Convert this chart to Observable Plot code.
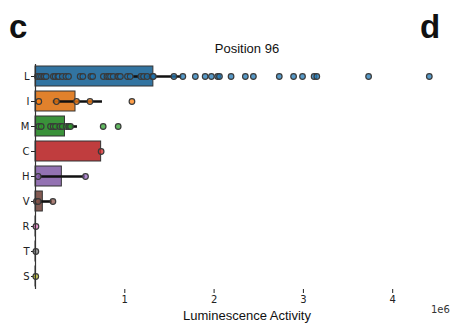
<!DOCTYPE html>
<html>
<head>
<meta charset="utf-8">
<script src="https://cdn.jsdelivr.net/npm/d3@7"></script>
<script src="https://cdn.jsdelivr.net/npm/@observablehq/plot@0.6"></script>
<style>
  html, body { margin: 0; padding: 0; background: #fff; }
  #wrap { position: relative; width: 450px; height: 325px; overflow: hidden; font-family: "Liberation Sans", Arial, sans-serif; }
  #wrap svg { position: absolute; left: 0; top: 0; }
  .lab { position: absolute; white-space: nowrap; color: #111; }
</style>
</head>
<body>
<div id="wrap">
  <div class="lab" style="left:9px;top:8px;font-size:33px;font-weight:bold;line-height:38px;">c</div>
  <div class="lab" style="left:420px;top:8px;font-size:33px;font-weight:bold;line-height:38px;">d</div>
  <div class="lab" id="title" style="left:0;width:450px;padding-left:44px;box-sizing:border-box;text-align:center;top:41px;font-size:13px;line-height:16px;">Position 96</div>
  <div class="lab" id="xlabel" style="left:0;width:450px;padding-left:44px;box-sizing:border-box;text-align:center;top:308px;font-size:13px;line-height:16px;">Luminescence Activity</div>
  <div class="lab" style="left:431px;top:304px;font-size:10px;line-height:12px;font-family:'DejaVu Sans',sans-serif;color:#333;">1e6</div>
</div>
<script>
// Amino acid categories at position 96 (order as in the chart)
const categories = ["L", "I", "M", "C", "H", "V", "R", "T", "S"];
// Mean luminescence activity per category (units of 1e6)
const means = [1.32, 0.448, 0.33, 0.735, 0.295, 0.082, 0.004, 0.002, 0.002];
// Confidence interval (error bar) ends (units of 1e6)
const ciLow  = [1.10, 0.20, 0.19, 0.735, 0.03, 0.02, 0.004, 0.002, 0.002];
const ciHigh = [1.64, 0.75, 0.47, 0.735, 0.56, 0.19, 0.004, 0.002, 0.002];
// Individual measurements (units of 1e6)
const pointsL = [0.022, 0.045, 0.067, 0.09, 0.10, 0.12, 0.20, 0.22, 0.25, 0.26, 0.30, 0.34, 0.37,
  0.50, 0.53, 0.62, 0.64, 0.76, 0.80, 0.82, 0.84, 0.87, 0.92, 0.93, 0.95, 1.03, 1.06, 1.18, 1.21,
  1.25, 1.31, 1.32, 1.55, 1.65, 1.79, 1.90, 1.97, 2.04, 2.06, 2.19, 2.35, 2.44, 2.73, 2.89, 2.99,
  3.12, 3.15, 3.73, 4.41];
const pointsI = [0.037, 0.235, 0.46, 0.61, 1.08];
const pointsM = [0.037, 0.064, 0.168, 0.198, 0.224, 0.272, 0.30, 0.347, 0.373, 0.392, 0.758, 0.926];
const pointsC = [0.735];
const pointsH = [0.03, 0.56];
const pointsV = [0.01, 0.03, 0.195];
const pointsR = [0.005];
const pointsT = [0.004];
const pointsS = [0.003];
const xTicks = [1, 2, 3, 4];
// Colours: bars (desaturated) and points (full)
const barColors = ["#3274a1", "#e1812c", "#3a923a", "#c03d3e", "#9372b2", "#845b53", "#d684bd", "#7f7f7f", "#a9aa35"];
const dotColors = ["#1f77b4", "#ff7f0e", "#2ca02c", "#d62728", "#9467bd", "#8c564b", "#e377c2", "#7f7f7f", "#bcbd22"];

const pointLists = [pointsL, pointsI, pointsM, pointsC, pointsH, pointsV, pointsR, pointsT, pointsS];
const summary = categories.map((c, i) => ({aa: c, mean: means[i], lo: ciLow[i], hi: ciHigh[i]}));
const points = categories.flatMap((c, i) => pointLists[i].map(v => ({aa: c, value: v})));

const xMax = (450 - 35) / 89.3;

const chart = Plot.plot({
  width: 450,
  height: 325,
  marginTop: 64,
  marginBottom: 36,
  marginLeft: 35,
  marginRight: 0,
  style: {fontFamily: "'DejaVu Sans', sans-serif", fontSize: "10px", color: "#222", background: "transparent"},
  x: {domain: [0, xMax], ticks: xTicks, tickSize: 4, tickPadding: 2, tickFormat: d => d, label: null},
  y: {domain: categories, paddingInner: 0.2, paddingOuter: 0.1, tickSize: 4, tickPadding: 2, label: null},
  color: {domain: categories, range: barColors},
  marks: [
    Plot.barX(summary, {x: "mean", y: "aa", fill: "aa", stroke: "#333", strokeWidth: 1}),
    Plot.ruleY(summary, {x1: "lo", x2: "hi", y: "aa", stroke: "#111", strokeWidth: 2.6}),
    Plot.dot(points, {
      x: "value", y: "aa", r: 2.8,
      fill: d => dotColors[categories.indexOf(d.aa)],
      fillOpacity: 0.75, stroke: "#3a3a3a", strokeWidth: 1.2
    }),
    Plot.ruleY([0], {frameAnchor: "top", stroke: "#555", strokeWidth: 1}),
    Plot.ruleY([0], {frameAnchor: "bottom", stroke: "#555", strokeWidth: 1}),
    Plot.ruleX([0], {stroke: "#333", strokeWidth: 1.2})
  ]
});
document.getElementById("wrap").prepend(chart);
</script>
</body>
</html>
